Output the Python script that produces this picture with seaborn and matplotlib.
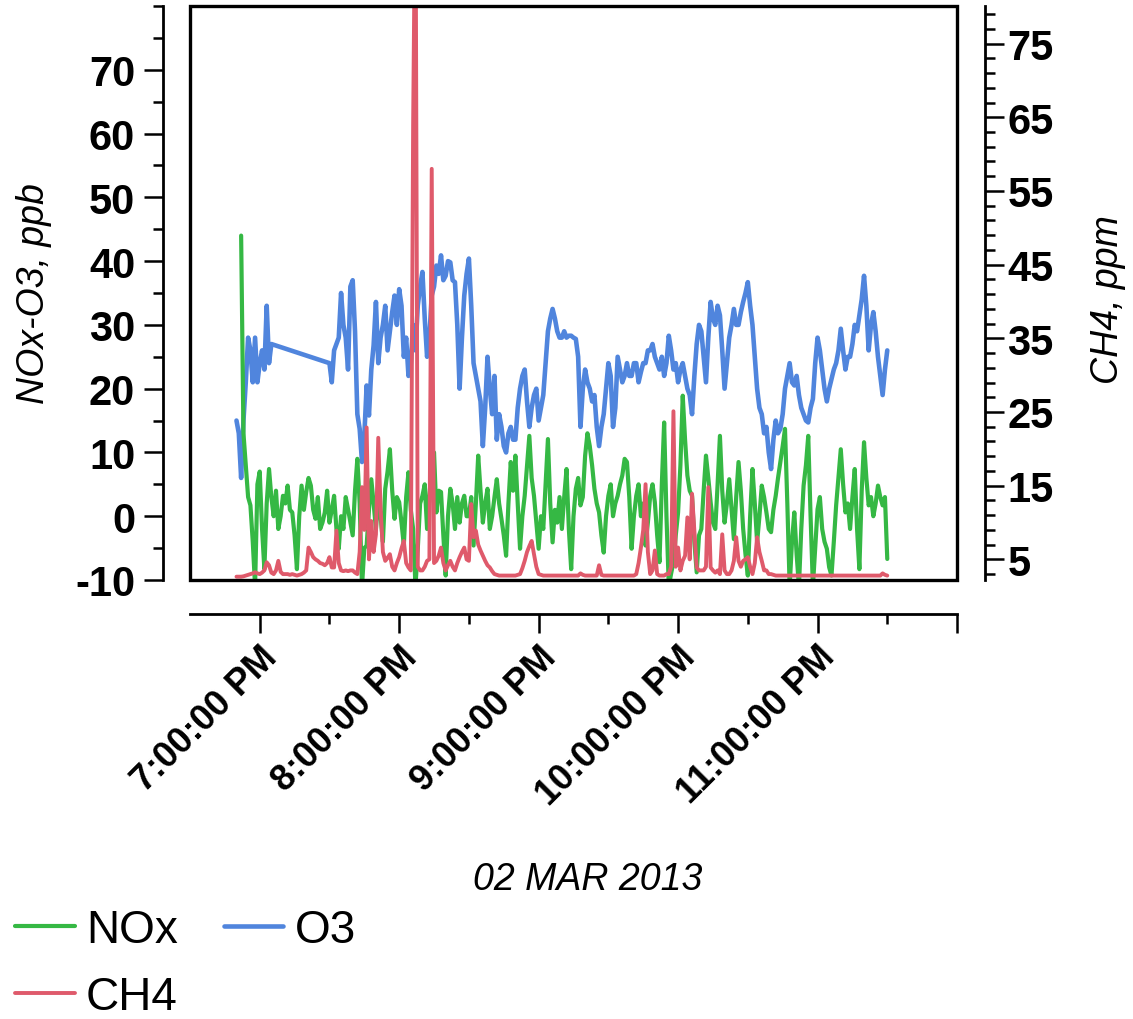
import numpy as np
import pandas as pd
import matplotlib
matplotlib.use("Agg")
import matplotlib.pyplot as plt
import matplotlib.dates as mdates
from matplotlib.patches import Rectangle
from matplotlib.ticker import FixedLocator
import seaborn as sns

nan = np.nan

# ---------------- data ----------------
# sample times: minutes after 6:30 PM, 02 MAR 2013 (1-minute sampling, 6:50 PM .. 11:30 PM)
minutes = list(range(20, 301))

o3 = [15, 13, 6, 15, 21, 28, 26, 21, 28, 21,
      24, 26, 23, 33, 24, 27, nan, nan, nan, nan,
      nan, nan, nan, nan, nan, nan, nan, nan, nan, nan,
      nan, nan, nan, nan, nan, nan, nan, nan, nan, nan,
      24, 21, 26, 27, 28, 35, 30, 28, 23, 36,
      37, 29, 16, 13.7, 8.5, 12.6, 20.5, 15.8, 23, 26.8,
      33.6, 24, 28, 30, 33, 26, 29, 32, 34.6, 30,
      35.6, 33, 25, 28, 22, 24, 30, 26, 33, 36,
      38.3, 31, 25, 28, 34.6, 36, 39.3, 38, 40.9, 37,
      37.7, 40, 39.8, 37, 36.7, 30, 20, 28, 34.6, 38,
      40.4, 33, 24, 22, 20, 18, 11, 17, 25, 20,
      16, 22, 12, 16, 14, 11, 10, 13, 14, 12,
      12, 17, 20, 22, 23, 18, 14, 17, 19, 20,
      15, 17, 19, 24, 29, 31, 32.5, 31, 29, 28,
      28, 29, 28, 28.3, 28.3, 28, 27.8, 25, 14, 20,
      23, 21, 20, 18, 19, 14, 11, 14, 16, 20,
      24, 22, 14, 17, 25, 23, 21, 22, 24, 22,
      22, 24, 24, 21, 22.6, 24, 24, 26, 26, 27,
      25, 24, 23, 25, 22, 24, 28.3, 26, 23, 24,
      21, 23, 24, 22, 20, 19, 16, 22, 27, 30,
      29, 25, 21, 28, 33.6, 31, 30, 33, 31.5, 26,
      20, 24, 28, 30, 32.5, 30, 30, 32, 33.6, 35,
      36.7, 33, 30, 25, 20, 17, 16, 13, 14, 10,
      7.4, 12, 15, 13, 13.7, 16, 20, 22, 24, 21,
      20.5, 22, 19, 17, 16, 15, 14.7, 17, 18.4, 24,
      28, 26, 23, 20, 18, 20, 21.5, 23, 24, 26,
      29.4, 26, 23, 25, 25, 27, 30, 29, 31.5, 34,
      37.7, 33, 26, 30, 32, 29, 25, 22, 19, 23,
      26]

nox = [nan, nan, 44, 13, 8, 3, 1.7, -4, -11, 5,
       7, -2, -8.3, 2, 7.4, 3, 0, 4, -2, 0,
       3.2, 2, 4.8, 1, 0.6, -3, -8.3, 0, 4.8, 1,
       3.8, 6, 4.8, 1, -0.4, 3, -2, -1, 0.6, 4,
       -1, 1, 3.2, -2, -5.1, 0, -2, 3, 1.1, -1,
       -3, 4, 9, 2, -11, -5, -4.6, 1, 5.8, 2,
       -2, 3, 0, -4, 4.3, 7, 10.5, 4, -0.4, 3,
       2.2, -1, -4.6, 3, 6.9, 1, -2, -11, -5.1, 2,
       3.2, 5, -2, 3, 8.5, 10, 0.6, 4, 3.8, -3,
       -9.3, 0, 4.3, 2, -2, 3, -1, 2, 3.2, 0,
       0, 3, -4.6, 2, 9.5, 4, -1, 2, 4.3, -2,
       0, 3, 5.8, 2, -0.4, -3, -6.2, 2, 8.5, 4,
       9.5, 2, -5.1, 0, 3.2, 8, 12.6, 6, 3.2, -1,
       -5.1, 0, -2, 5, 12.1, 2, -4.1, 1, -1, 3,
       -2, 3, 7.4, -2, -8.3, 0, 4.3, 6, 1.7, 3,
       9.5, 13, 11, 8, 4.3, 2, 0.6, -3, -5.7, 0,
       3.2, 5, 0, 2, 3.2, 5, 6.4, 9, 8.5, 3,
       -5.1, 0, 3.2, 5, 0, 2, -4.6, -1, 3.2, 5,
       2.2, -3, -7.2, 5, 14.7, 0, -11, -9, -7.2, -3,
       0.6, 8, 18.9, 12, 6.4, 4, 3.2, -4, -8.8, -3,
       -2, 4, 9.5, 6, 2.2, -1, -2, 5, 12.6, 4,
       -1, 2, 5.8, 1, -3.6, 3, 8.5, 4, -2, -6,
       -9.3, 0, 7.4, 2, -4.1, 0, 4.8, 3, 0.6, -2,
       -2.5, 1, 3.2, 6, 8.5, 11, 13.7, 2, -11, -4,
       0.6, -6, -11, -2, 4.8, 8, 12.6, 0, -11, -5,
       1.1, 3, -2, -4, -5.1, -8, -9.3, -4, 1.7, 6,
       10.5, 5, 0.6, 2, -2, 3, 7.4, -2, -8.3, 4,
       11.6, 6, 1.7, 3, 0, 2, 4.8, 3, 1.7, 3,
       -6.7]

ch4 = [2.65, 2.65, 2.65, 2.7, 2.8, 2.9, 3.0, 3.1, 3.25, 3.1,
       3.0, 3.2, 3.5, 4.6, 4.2, 3.2, 3.0, 3.5, 4.8, 3.3,
       3.0, 3.0, 3.0, 2.9, 3.0, 2.9, 2.8, 2.9, 3.0, 3.2,
       3.5, 6.6, 6.0, 5.3, 5.0, 4.8, 4.5, 4.4, 4.2, 4.5,
       5.3, 3.9, 3.9, 8.9, 4.5, 3.5, 3.4, 3.5, 3.4, 3.5,
       3.5, 3.2, 3.0, 6.0, 14.8, 9.0, 22.9, 5.0, 10.2, 6.0,
       8.4, 21.5, 12.0, 6.0, 4.8, 5.2, 5.7, 4.0, 3.5, 4.5,
       5.3, 6.5, 7.5, 4.5, 3.9, 3.5, 64, 100, 4.0, 3.5,
       3.5, 4.0, 4.8, 5.0, 58, 4.5, 4.8, 5.5, 6.6, 4.5,
       3.5, 4.2, 4.8, 4.0, 3.5, 4.5, 5.3, 6.0, 6.6, 5.0,
       4.8, 12.5, 8.0, 8.9, 7.0, 6.2, 5.5, 4.8, 4.2, 3.9,
       3.4, 3.0, 2.9, 2.8, 2.8, 2.8, 2.8, 2.8, 2.8, 2.8,
       2.8, 2.9, 3.0, 3.8, 4.8, 6.0, 6.8, 7.5, 5.7, 4.0,
       3.0, 2.9, 2.8, 2.8, 2.8, 2.8, 2.8, 2.8, 2.8, 2.8,
       2.8, 2.8, 2.8, 2.8, 2.8, 2.8, 2.8, 2.8, 3.1, 2.9,
       2.8, 2.8, 2.8, 2.8, 2.8, 2.8, 4.2, 2.9, 2.8, 2.8,
       2.8, 2.8, 2.8, 2.8, 2.8, 2.8, 2.8, 2.8, 2.8, 2.8,
       2.8, 2.8, 3.0, 4.5, 6.6, 9.0, 15.2, 6.0, 3.0, 3.5,
       6.2, 3.0, 2.8, 2.8, 2.8, 3.0, 3.0, 4.0, 25.1, 4.0,
       6.6, 3.5, 4.8, 5.5, 10.7, 5.0, 13.9, 9.0, 3.9, 3.5,
       3.5, 3.5, 4.0, 14.8, 3.9, 3.5, 3.2, 3.5, 3.0, 8.4,
       3.5, 3.0, 3.0, 3.5, 4.8, 8.0, 4.8, 4.0, 4.8, 5.0,
       5.3, 4.0, 3.0, 4.5, 8.0, 6.0, 4.8, 3.5, 3.5, 3.0,
       3.0, 2.9, 2.8, 2.8, 2.8, 2.8, 2.8, 2.8, 2.8, 2.8,
       2.8, 2.8, 2.8, 2.8, 2.8, 2.8, 2.8, 2.8, 2.8, 2.8,
       2.8, 2.8, 2.8, 2.8, 2.8, 2.8, 2.8, 2.8, 2.8, 2.8,
       2.8, 2.8, 2.8, 2.8, 2.8, 2.8, 2.8, 2.8, 2.8, 2.8,
       2.8, 2.8, 2.8, 2.8, 2.8, 2.8, 2.8, 2.8, 3.1, 2.9,
       2.8]

left_ticks = [-10, 0, 10, 20, 30, 40, 50, 60, 70]
left_labels = ["-10", "0", "10", "20", "30", "40", "50", "60", "70"]
right_ticks = [5, 15, 25, 35, 45, 55, 65, 75]
right_labels = ["5", "15", "25", "35", "45", "55", "65", "75"]
x_tick_times = ["2013-03-02 19:00", "2013-03-02 20:00", "2013-03-02 21:00",
                "2013-03-02 22:00", "2013-03-02 23:00", "2013-03-03 00:00"]
x_tick_labels = ["7:00:00 PM", "8:00:00 PM", "9:00:00 PM", "10:00:00 PM",
                 "11:00:00 PM", ""]
x_minor_times = ["2013-03-02 19:30", "2013-03-02 20:30", "2013-03-02 21:30",
                 "2013-03-02 22:30", "2013-03-02 23:30"]

GREEN = "#35b844"
BLUE = "#5085dd"
RED = "#df5a6b"

# ---------------- style ----------------
sns.set_style("white")
plt.rcParams["font.family"] = ["Liberation Sans", "DejaVu Sans"]
plt.rcParams["axes.unicode_minus"] = False
for k in ["text.color", "axes.labelcolor", "xtick.color", "ytick.color",
          "axes.edgecolor"]:
    plt.rcParams[k] = "black"

W, H = 1133, 1020
fig = plt.figure(figsize=(W / 100, H / 100), dpi=100)
ax = fig.add_axes([190 / W, 1 - 581 / H, 767 / W, 574 / H])
ax2 = ax.twinx()

base = pd.Timestamp("2013-03-02 18:30")
df = pd.DataFrame({
    "time": base + pd.to_timedelta(minutes, unit="min"),
    "NOx": nox, "O3": o3, "CH4": ch4,
})

sns.lineplot(data=df.dropna(subset=["O3"]), x="time", y="O3", ax=ax,
             color=BLUE, lw=3.3, legend=False)
l_o3 = ax.get_lines()[-1]
sns.lineplot(data=df.dropna(subset=["NOx"]), x="time", y="NOx", ax=ax,
             color=GREEN, lw=3.0, legend=False)
l_nox = ax.get_lines()[-1]
sns.lineplot(data=df, x="time", y="CH4", ax=ax2,
             color=RED, lw=2.8, legend=False)
l_ch4 = ax2.get_lines()[-1]

# ---------------- axes ----------------
ax.set_xlim(base, pd.Timestamp("2013-03-03 00:00"))
ax.set_ylim(-10, 80)
ax2.set_ylim(2.2, 80.1)

for s in ["top", "right"]:
    ax.spines[s].set_visible(False)
for s in ["top", "left", "bottom"]:
    ax2.spines[s].set_visible(False)
ax.spines["left"].set_position(("outward", 19.5))
ax.spines["bottom"].set_position(("outward", 24.5))
ax2.spines["right"].set_position(("outward", 20.2))
for sp in [ax.spines["left"], ax.spines["bottom"], ax2.spines["right"]]:
    sp.set_linewidth(2.0)
    sp.set_color("black")

ax2.add_patch(Rectangle((0, 0), 1, 1, transform=ax2.transAxes, fill=False,
                        lw=2.4, ec="black", clip_on=False, zorder=10))

tick_font = dict(fontsize=30, fontweight="bold")
ax.set_yticks(left_ticks, left_labels, **tick_font)
ax.yaxis.set_minor_locator(FixedLocator([-5, 5, 15, 25, 35, 45, 55, 65, 75, 80]))
ax2.set_yticks(right_ticks, right_labels, **tick_font)
ax2.yaxis.set_minor_locator(FixedLocator([v for v in range(3, 81, 2) if v not in right_ticks]))

xt = [mdates.date2num(pd.Timestamp(t)) for t in x_tick_times]
ax.set_xticks(xt, x_tick_labels, fontsize=26, fontweight="bold", rotation=45,
              ha="right", va="top", rotation_mode="anchor")
ax.xaxis.set_minor_locator(FixedLocator([mdates.date2num(pd.Timestamp(t)) for t in x_minor_times]))

for a in (ax, ax2):
    a.tick_params(which="major", direction="out", length=14, width=1.8, color="black")
    a.tick_params(which="minor", direction="out", length=7, width=1.8, color="black")
ax.tick_params(axis="y", which="both", left=True, pad=6)
ax.tick_params(axis="x", which="both", bottom=True, pad=4)
ax2.tick_params(axis="y", which="both", right=True, pad=2)

lab_font = dict(fontsize=27, fontstyle="italic")
ax.set_xlabel("02 MAR 2013", **lab_font)
ax.xaxis.set_label_coords(0.519, -0.489)
ax.set_ylabel("NOx-O3, ppb", **lab_font)
ax.yaxis.set_label_coords(-0.18, 0.5)
ax2.set_ylabel("CH4, ppm", **lab_font)
ax2.yaxis.set_label_coords(1.173, 0.49)

fig.legend(handles=[l_nox, l_ch4, l_o3], labels=["NOx", "CH4", "O3"], ncol=2,
           loc="lower left", bbox_to_anchor=(15 / W, 0.0), frameon=False,
           fontsize=33, handlelength=1.3, handletextpad=0.25, columnspacing=1.0,
           labelspacing=0.5, borderpad=0, borderaxespad=0)

fig.savefig("out.png", dpi=100)
